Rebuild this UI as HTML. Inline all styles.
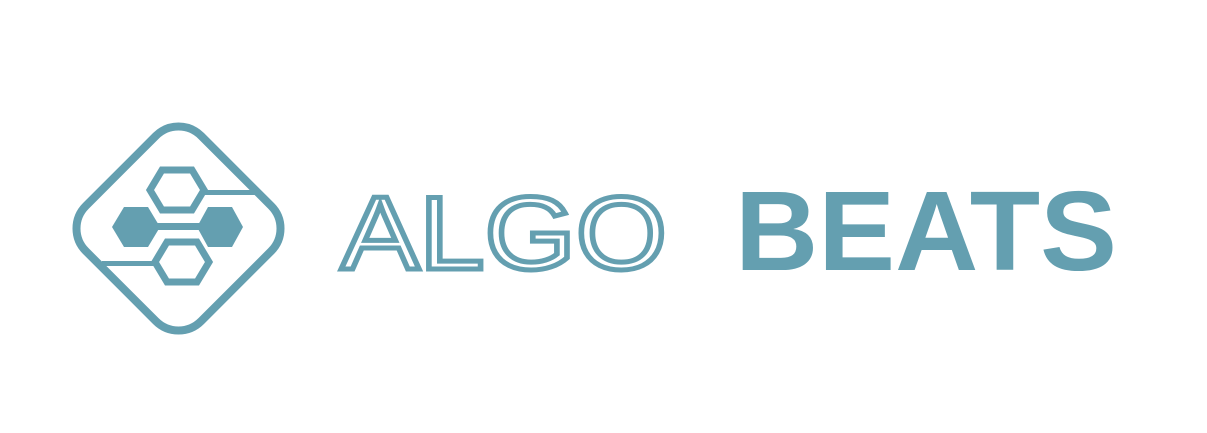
<!DOCTYPE html>
<html><head><meta charset="utf-8"><style>
html,body{margin:0;padding:0;background:#fff;width:1207px;height:433px;overflow:hidden}
</style></head><body>
<svg width="1207" height="433" viewBox="0 0 1207 433">
<g fill="#649fb0" stroke="#649fb0">
<rect x="97" y="147" width="163" height="163" rx="32" transform="rotate(45 178.5 228.5)" fill="none" stroke-width="8"/>
<polygon points="150,190 162,170 192,170 204,190 192,210 162,210" fill="none" stroke-width="7"/>
<polygon points="155,262 167,242 197,242 209,262 197,282 167,282" fill="none" stroke-width="7"/>
<polygon points="112,227 124,207 148,207 160,227 148,247 124,247" stroke="none"/>
<polygon points="197,227 208,207 232,207 243,227 232,247 208,247" stroke="none"/>
<rect x="155" y="223" width="48" height="7" stroke="none"/>
<rect x="205" y="190" width="52" height="5" stroke="none"/>
<rect x="102" y="261" width="54" height="5" stroke="none"/>
</g>
<text x="341" y="269" font-family="Liberation Sans, sans-serif" font-size="104" textLength="326" lengthAdjust="spacingAndGlyphs" fill="#fff" stroke="#649fb0" stroke-width="5">ALGO</text>
<text x="735" y="270" font-family="Liberation Sans, sans-serif" font-weight="bold" font-size="113" textLength="382" lengthAdjust="spacingAndGlyphs" fill="#649fb0">BEATS</text>
</svg>
</body></html>
